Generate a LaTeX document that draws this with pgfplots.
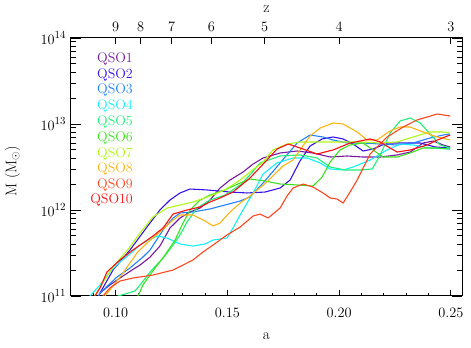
\documentclass[border=0pt]{standalone}
\usepackage{pgfplots}
\pgfplotsset{compat=1.18}
\definecolor{c1}{RGB}{120,25,160}
\definecolor{c2}{RGB}{55,20,230}
\definecolor{c3}{RGB}{30,130,255}
\definecolor{c4}{RGB}{20,240,250}
\definecolor{c5}{RGB}{30,240,120}
\definecolor{c6}{RGB}{60,225,30}
\definecolor{c7}{RGB}{175,250,20}
\definecolor{c8}{RGB}{255,180,20}
\definecolor{c9}{RGB}{255,70,30}
\definecolor{c10}{RGB}{255,15,15}
\newcommand{\fs}{\fontsize{14}{16}\selectfont}
\newcommand{\ft}{\fontsize{15.5}{17}\selectfont}
\begin{document}
\begin{tikzpicture}
\begin{axis}[
  width=391bp, height=258bp, scale only axis,
  xmin=0.08, xmax=0.255, ymin=11, ymax=14,
  xtick={0.10,0.15,0.20,0.25},
  xticklabels={$0.10$,$0.15$,$0.20$,$0.25$},
  minor xtick={0.09,0.11,0.12,0.13,0.14,0.16,0.17,0.18,0.19,0.21,0.22,0.23,0.24},
  xtick pos=bottom,
  ytick={11,12,13,14},
  yticklabels={$10^{11}$,$10^{12}$,$10^{13}$,$10^{14}$},
  minor ytick={11.30103,11.47712,11.60206,11.69897,11.77815,11.84510,11.90309,11.95424,
               12.30103,12.47712,12.60206,12.69897,12.77815,12.84510,12.90309,12.95424,
               13.30103,13.47712,13.60206,13.69897,13.77815,13.84510,13.90309,13.95424},
  ytick pos=both, yticklabel pos=left,
  tick align=inside,
  axis line style={line width=1bp},
  every tick/.style={black, line width=0.9bp},
  major tick length=10bp, minor tick length=5bp,
  xtick style={/pgfplots/major tick length=6bp,/pgfplots/minor tick length=3bp},
  tick label style={font=\ft},
  xticklabel style={yshift=-8.5bp},
  yticklabel style={xshift=-1.5bp},
  xlabel={a},
  xlabel style={at={(axis description cs:0.5,-0.155)},anchor=center,font=\ft},
  ylabel={M (M$_\odot$)},
  ylabel style={at={(axis description cs:-0.1496,0.4845)},anchor=center,rotate=0,font=\ft},
  no markers,
  every axis plot/.append style={line width=1.1bp, line join=round},
]
\coordinate (SW) at (rel axis cs:0,0);
\coordinate (NE) at (rel axis cs:1,1);
% QSO1
\addplot[c1] coordinates {
(0.0916,10.953)(0.0930,11.035)(0.0974,11.128)(0.1033,11.233)(0.1073,11.302)(0.1109,11.360)
(0.1154,11.453)(0.1198,11.581)(0.1243,11.791)(0.1288,11.907)(0.1333,11.977)(0.1378,12.023)
(0.1422,12.116)(0.1467,12.256)(0.1512,12.349)(0.1570,12.442)(0.1615,12.535)(0.1660,12.605)
(0.1736,12.663)(0.1812,12.686)(0.1883,12.663)(0.1960,12.616)(0.2036,12.628)(0.2107,12.616)
(0.2184,12.616)(0.2260,12.640)(0.2318,12.674)(0.2376,12.779)(0.2421,12.802)(0.2466,12.756)
(0.2497,12.733)};
% QSO2
\addplot[c2] coordinates {
(0.0916,10.953)(0.0930,11.035)(0.0988,11.302)(0.1064,11.535)(0.1140,11.802)(0.1198,12.000)
(0.1243,12.116)(0.1288,12.198)(0.1333,12.244)(0.1409,12.233)(0.1512,12.209)(0.1588,12.198)
(0.1669,12.209)(0.1736,12.256)(0.1781,12.349)(0.1825,12.570)(0.1870,12.744)(0.1924,12.826)
(0.1973,12.849)(0.2018,12.826)(0.2063,12.767)(0.2107,12.686)(0.2152,12.709)(0.2215,12.779)
(0.2273,12.779)(0.2363,12.779)(0.2430,12.733)(0.2497,12.721)};
% QSO3
\addplot[c3] coordinates {
(0.0916,10.953)(0.0930,11.035)(0.1006,11.221)(0.1064,11.326)(0.1122,11.453)(0.1154,11.535)
(0.1212,11.767)(0.1257,11.907)(0.1288,11.965)(0.1346,11.977)(0.1422,12.012)(0.1489,12.058)
(0.1557,12.105)(0.1601,12.151)(0.1660,12.314)(0.1736,12.547)(0.1812,12.779)(0.1870,12.872)
(0.1928,12.849)(0.1973,12.814)(0.2036,12.779)(0.2107,12.779)(0.2184,12.767)(0.2260,12.756)
(0.2331,12.779)(0.2407,12.837)(0.2466,12.872)(0.2497,12.884)};
% QSO4
\addplot[c4] coordinates {
(0.0871,10.953)(0.0885,11.000)(0.0930,11.128)(0.0974,11.279)(0.1019,11.395)(0.1064,11.488)
(0.1109,11.593)(0.1154,11.663)(0.1189,11.698)(0.1230,11.674)(0.1288,11.605)(0.1346,11.581)
(0.1400,11.605)(0.1436,11.651)(0.1498,11.674)(0.1525,11.791)(0.1557,11.942)(0.1588,12.081)
(0.1615,12.198)(0.1660,12.419)(0.1722,12.547)(0.1794,12.605)(0.1857,12.605)(0.1915,12.547)
(0.1960,12.477)(0.2018,12.465)(0.2063,12.500)(0.2139,12.581)(0.2215,12.698)(0.2273,12.767)
(0.2331,12.756)(0.2407,12.721)(0.2497,12.709)};
% QSO5
\addplot[c5] coordinates {
(0.1001,10.953)(0.1010,11.000)(0.1042,11.023)(0.1086,11.058)(0.1109,11.128)(0.1154,11.279)
(0.1212,11.442)(0.1257,11.593)(0.1288,11.709)(0.1319,11.860)(0.1364,12.023)(0.1422,12.116)
(0.1489,12.174)(0.1557,12.291)(0.1601,12.407)(0.1646,12.547)(0.1736,12.628)(0.1825,12.640)
(0.1901,12.605)(0.1960,12.500)(0.2027,12.465)(0.2094,12.465)(0.2148,12.477)(0.2184,12.640)
(0.2228,12.895)(0.2273,13.035)(0.2318,13.070)(0.2363,13.012)(0.2407,12.884)(0.2452,12.756)
(0.2497,12.721)};
% QSO6
\addplot[c6] coordinates {
(0.1086,10.953)(0.1100,11.000)(0.1122,11.128)(0.1163,11.279)(0.1221,11.477)(0.1266,11.651)
(0.1297,11.826)(0.1333,12.000)(0.1378,12.116)(0.1422,12.174)(0.1489,12.233)(0.1557,12.314)
(0.1601,12.360)(0.1669,12.337)(0.1736,12.302)(0.1812,12.291)(0.1883,12.279)(0.1924,12.384)
(0.1960,12.558)(0.2004,12.698)(0.2049,12.756)(0.2107,12.779)(0.2152,12.698)(0.2197,12.616)
(0.2260,12.616)(0.2318,12.663)(0.2376,12.721)(0.2439,12.721)(0.2497,12.709)};
% QSO7
\addplot[c7] coordinates {
(0.0894,10.953)(0.0907,11.000)(0.0930,11.105)(0.0988,11.337)(0.1064,11.570)(0.1109,11.733)
(0.1167,11.919)(0.1230,12.023)(0.1288,12.058)(0.1346,12.093)(0.1422,12.163)(0.1489,12.233)
(0.1557,12.349)(0.1601,12.442)(0.1660,12.558)(0.1704,12.698)(0.1767,12.767)(0.1825,12.791)
(0.1915,12.791)(0.2004,12.791)(0.2094,12.791)(0.2184,12.779)(0.2260,12.791)(0.2331,12.849)
(0.2407,12.907)(0.2466,12.907)(0.2497,12.895)};
% QSO8
\addplot[c8] coordinates {
(0.0943,10.953)(0.0952,11.000)(0.0974,11.070)(0.1033,11.267)(0.1095,11.500)(0.1140,11.616)
(0.1198,11.744)(0.1257,11.884)(0.1288,11.942)(0.1346,11.942)(0.1400,11.872)(0.1436,11.814)
(0.1467,11.849)(0.1512,11.977)(0.1557,12.081)(0.1601,12.163)(0.1677,12.326)(0.1749,12.512)
(0.1794,12.581)(0.1825,12.698)(0.1870,12.860)(0.1915,12.953)(0.1973,13.012)(0.2018,13.000)
(0.2081,12.907)(0.2125,12.814)(0.2170,12.814)(0.2228,12.919)(0.2273,12.965)(0.2318,12.965)
(0.2376,12.907)(0.2439,12.849)(0.2497,12.814)};
% QSO9
\addplot[c9] coordinates {
(0.0930,10.953)(0.0943,11.000)(0.0974,11.093)(0.1019,11.174)(0.1077,11.209)(0.1167,11.244)
(0.1257,11.302)(0.1346,11.419)(0.1391,11.512)(0.1436,11.593)(0.1498,11.709)(0.1557,11.802)
(0.1615,11.930)(0.1646,11.953)(0.1682,11.907)(0.1736,12.023)(0.1767,12.163)(0.1794,12.256)
(0.1839,12.302)(0.1883,12.267)(0.1928,12.198)(0.1960,12.140)(0.1991,12.128)(0.2018,12.081)
(0.2049,12.209)(0.2081,12.349)(0.2139,12.651)(0.2215,12.849)(0.2286,12.965)(0.2349,13.047)
(0.2439,13.116)(0.2497,13.093)};
% QSO10
\addplot[c10] coordinates {
(0.0898,10.953)(0.0907,11.000)(0.0930,11.093)(0.0961,11.279)(0.1019,11.419)(0.1077,11.535)
(0.1122,11.616)(0.1167,11.698)(0.1212,11.791)(0.1257,11.953)(0.1319,12.000)(0.1378,12.035)
(0.1422,12.093)(0.1467,12.140)(0.1525,12.209)(0.1601,12.372)(0.1677,12.581)(0.1722,12.709)
(0.1772,12.767)(0.1825,12.721)(0.1901,12.651)(0.1973,12.698)(0.2049,12.779)(0.2139,12.826)
(0.2184,12.791)(0.2228,12.721)(0.2260,12.674)(0.2318,12.698)(0.2394,12.756)(0.2439,12.814)
(0.2497,12.872)};
% legend labels
\node[anchor=base east,inner sep=0pt,text=c1,font=\fs] at (rel axis cs:0.1586,0.9054) {QSO1};
\node[anchor=base east,inner sep=0pt,text=c2,font=\fs] at (rel axis cs:0.1586,0.8434) {QSO2};
\node[anchor=base east,inner sep=0pt,text=c3,font=\fs] at (rel axis cs:0.1586,0.7853) {QSO3};
\node[anchor=base east,inner sep=0pt,text=c4,font=\fs] at (rel axis cs:0.1586,0.7233) {QSO4};
\node[anchor=base east,inner sep=0pt,text=c5,font=\fs] at (rel axis cs:0.1586,0.6612) {QSO5};
\node[anchor=base east,inner sep=0pt,text=c6,font=\fs] at (rel axis cs:0.1586,0.5992) {QSO6};
\node[anchor=base east,inner sep=0pt,text=c7,font=\fs] at (rel axis cs:0.1586,0.5372) {QSO7};
\node[anchor=base east,inner sep=0pt,text=c8,font=\fs] at (rel axis cs:0.1586,0.4791) {QSO8};
\node[anchor=base east,inner sep=0pt,text=c9,font=\fs] at (rel axis cs:0.1586,0.4171) {QSO9};
\node[anchor=base east,inner sep=0pt,text=c10,font=\fs] at (rel axis cs:0.1586,0.3589) {QSO10};
\end{axis}
\begin{axis}[
  width=391bp, height=258bp, scale only axis,
  xmin=0.08, xmax=0.255, ymin=11, ymax=14,
  axis x line*=top, hide y axis,
  xtick={0.1,0.111111,0.125,0.142857,0.166667,0.2,0.25},
  xticklabels={$9$,$8$,$7$,$6$,$5$,$4$,$3$},
  minor xtick={},
  tick align=inside, major tick length=6bp,
  axis line style={line width=1bp},
  every tick/.style={black, line width=0.9bp},
  xticklabel style={yshift=2.5bp, font=\ft},
  xlabel={z},
  xlabel style={at={(axis description cs:0.5,1.112)},anchor=center,font=\ft},
]
\end{axis}
\pgfresetboundingbox
\path ([xshift=-71bp,yshift=-52bp]SW) rectangle ([xshift=9bp,yshift=38bp]NE);
\end{tikzpicture}
\end{document}
